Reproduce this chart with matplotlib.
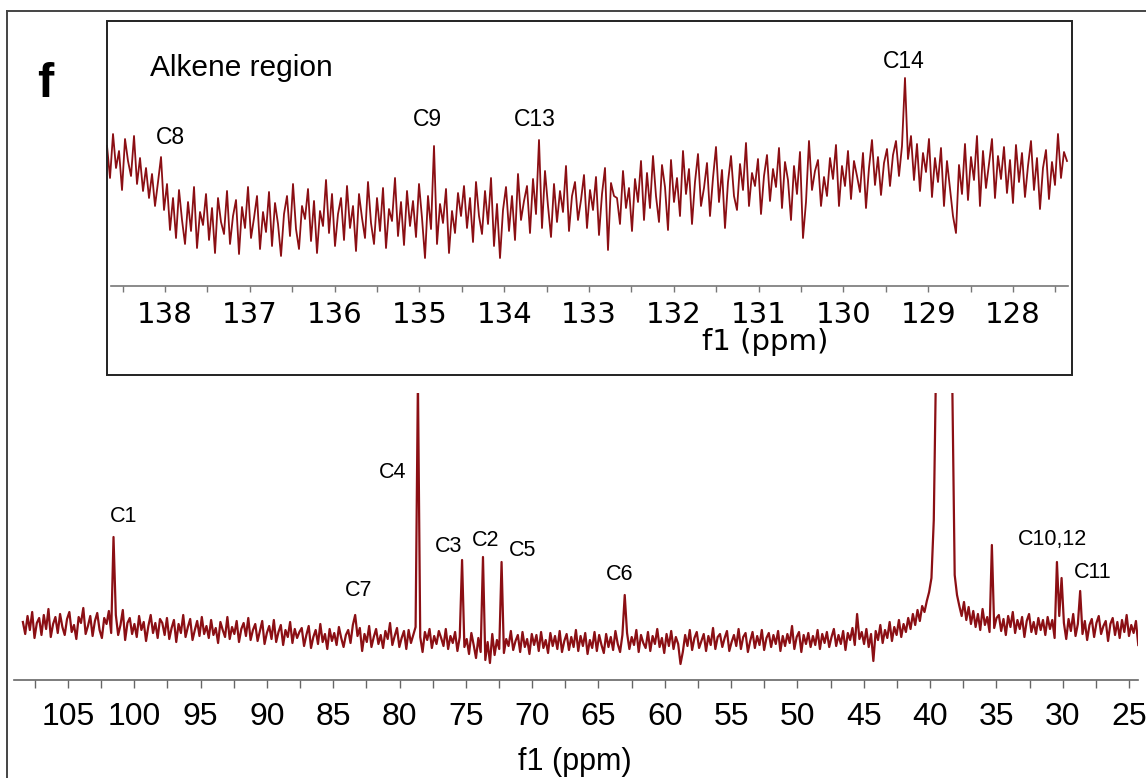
import numpy as np
import matplotlib
matplotlib.use('Agg')
import matplotlib.pyplot as plt
from matplotlib.patches import Rectangle
from matplotlib.lines import Line2D
from matplotlib.ticker import MultipleLocator

#### main spectrum (13C, 108 -> 24 ppm) ####
main_ppm_start = 108.4
main_ppm_end = 24.3
main_trace = [
    58, 46, 64, 50, 68, 42, 57, 62, 45, 65, 51, 71, 43, 56, 63, 47, 66, 53, 45, 61,
    68, 48, 55, 41, 63, 57, 72, 46, 54, 64, 44, 59, 67, 50, 42, 62, 56, 69, 47, 58,
    65, 45, 55, 70, 40, 57, 62, 46, 56, 43, 64, 50, 58, 39, 54, 65, 47, 57, 42, 61,
    57, 45, 62, 41, 52, 60, 38, 56, 47, 65, 43, 53, 61, 40, 50, 59, 44, 63, 46, 54,
    42, 60, 45, 52, 37, 58, 50, 43, 63, 41, 53, 46, 59, 38, 51, 57, 44, 62, 40, 50,
    56, 39, 49, 59, 36, 47, 54, 41, 60, 38, 48, 55, 35, 50, 43, 58, 37, 51, 42, 48,
    52, 34, 45, 54, 32, 43, 50, 36, 56, 38, 46, 31, 51, 39, 47, 35, 53, 42, 33, 45,
    50, 37, 55, 34, 44, 52, 29, 46, 38, 54, 33, 43, 51, 36, 45, 32, 49, 41, 57, 35,
    44, 52, 33, 42, 49, 31, 50, 37, 45, 53, 34, 43, 28, 48, 40, 51, 32, 44, 36, 49,
    42, 34, 51, 31, 44, 37, 48, 29, 43, 50, 33, 41, 26, 47, 35, 22, 42, 28, 49, 20,
    38, 17, 46, 25, 40, 31, 47, 27, 41, 34, 49, 30, 39, 45, 28, 48, 33, 41, 26, 46,
    35, 45, 29, 48, 32, 40, 27, 47, 34, 44, 31, 49, 28, 39, 46, 30, 43, 33, 50, 29,
    44, 34, 47, 26, 40, 32, 48, 29, 45, 35, 27, 46, 33, 43, 30, 49, 36, 28, 45, 34,
    47, 31, 43, 35, 50, 28, 45, 37, 32, 48, 29, 44, 36, 51, 33, 42, 27, 46, 34, 49,
    31, 43, 36, 16, 28, 45, 34, 50, 30, 42, 48, 32, 39, 46, 29, 44, 35, 52, 31, 43,
    46, 33, 42, 49, 29, 38, 45, 34, 51, 31, 43, 47, 28, 39, 48, 32, 44, 35, 50, 30,
    42, 47, 33, 45, 36, 49, 29, 44, 34, 46, 37, 54, 31, 43, 48, 28, 45, 36, 47, 33,
    44, 35, 50, 31, 46, 37, 48, 33, 43, 51, 34, 45, 36, 49, 30, 47, 40, 52, 35, 66,
    41, 48, 36, 51, 33, 46, 19, 49, 40, 55, 37, 50, 42, 58, 39, 53, 45, 60, 43, 56,
    48, 62, 51, 66, 55, 70, 59, 74, 68, 79, 88, 102, 160, 320, 400, 450, 460, 450, 410, 330,
    290, 105, 85, 74, 64, 78, 60, 73, 56, 69, 53, 66, 50, 71, 55, 63, 48, 68, 52, 62,
    65, 49, 61, 45, 64, 53, 68, 47, 60, 51, 63, 43, 59, 66, 48, 58, 46, 62, 50, 60,
    45, 63, 51, 60, 42, 58, 64, 47, 57, 41, 61, 49, 66, 44, 56, 62, 46, 59, 40, 55,
    61, 43, 57, 64, 46, 54, 59, 39, 56, 62, 45, 58, 42, 60, 48, 65, 44, 55, 47, 59,
    35,
]
main_peak_ppm = [101.5, 83.4, 78.6, 75.2, 73.7, 72.3, 63.0, 35.4, 30.4, 30.0, 28.7]
main_peak_height = [143, 65, 300, 120, 123, 118, 85, 135, 118, 102, 89]
main_labels = ['C1', 'C7', 'C4', 'C3', 'C2', 'C5', 'C6', 'C10,12', 'C11']
main_ticks = [105, 100, 95, 90, 85, 80, 75, 70, 65, 60, 55, 50, 45, 40, 35, 30, 25]

#### inset, alkene region (138.7 -> 127.4 ppm) ####
inset_ppm_start = 138.684
inset_ppm_end = 127.363
inset_trace = [
    140, 108, 152, 118, 135, 96, 147, 125, 110, 150, 102, 128, 95, 118, 88, 112, 80, 104, 92, 76,
    102, 56, 88, 48, 96, 66, 42, 84, 55, 99, 38, 74, 61, 92, 46, 78, 33, 88, 64, 52,
    95, 42, 70, 86, 32, 79, 58, 99, 48, 68, 90, 37, 74, 54, 94, 40, 83, 62, 30, 72,
    90, 50, 102, 57, 37, 80, 67, 97, 45, 85, 33, 75, 60, 106, 53, 92, 40, 72, 88, 46,
    100, 58, 80, 35, 92, 68, 48, 104, 63, 42, 88, 55, 98, 38, 77, 65, 108, 50, 84, 41,
    95, 60, 85, 49, 102, 68, 28, 90, 57, 104, 42, 82, 63, 97, 33, 75, 53, 93, 70, 100,
    58, 88, 44, 104, 70, 52, 95, 62, 108, 40, 82, 28, 76, 99, 55, 90, 46, 112, 66, 85,
    100, 53, 107, 72, 92, 58, 115, 80, 49, 102, 64, 95, 74, 120, 55, 90, 104, 66, 86, 111,
    58, 96, 76, 109, 51, 92, 118, 36, 103, 90, 88, 62, 115, 78, 98, 55, 107, 84, 125, 66,
    113, 78, 130, 90, 64, 121, 99, 56, 126, 84, 108, 70, 135, 92, 117, 62, 104, 132, 80, 98,
    123, 70, 108, 139, 84, 116, 58, 104, 130, 90, 76, 122, 96, 143, 80, 113, 100, 127, 72, 110,
    131, 85, 117, 99, 138, 78, 124, 106, 66, 120, 92, 134, 48, 84, 145, 96, 115, 126, 80, 109,
    90, 128, 107, 141, 80, 120, 100, 135, 87, 125, 110, 94, 133, 78, 118, 146, 101, 129, 91, 123,
    137, 100, 131, 145, 110, 140, 116, 127, 150, 106, 142, 95, 133, 114, 147, 89, 128, 104, 138, 80,
    125, 98, 70, 53, 121, 92, 142, 86, 129, 106, 150, 80, 135, 98, 122, 147, 88, 130, 107, 139,
    93, 126, 83, 141, 104, 133, 89, 120, 145, 96, 128, 77, 118, 136, 87, 124, 101, 152, 108, 134,
    125,
]
inset_peak_ppm = [138.04, 134.84, 133.6, 129.26]
inset_peak_height = [129, 140, 146, 208]
inset_labels = ['C8', 'C9', 'C13', 'C14']
inset_ticks = [138, 137, 136, 135, 134, 133, 132, 131, 130, 129, 128]

trace_color = '#8b0f14'
W, H = 1146, 778
helv = ['Liberation Sans', 'DejaVu Sans']


def build_trace(start, end, values, peak_ppm, peak_height):
    ppm = np.linspace(start, end, len(values))
    y = np.array(values, dtype=float)
    for p, h in zip(peak_ppm, peak_height):
        y[np.argmin(np.abs(ppm - p))] = h
    return ppm, y


def fx(px):
    return px / W


def fy(py):
    return 1 - py / H


fig = plt.figure(figsize=(W / 100, H / 100), dpi=100)

# outer frame + inset box
fig.add_artist(Line2D([fx(7), 1.0], [fy(11), fy(11)], color='#444444', lw=1.4))
fig.add_artist(Line2D([fx(7), fx(7)], [fy(11), 0.0], color='#444444', lw=1.4))
fig.add_artist(Rectangle((fx(107), fy(375)), fx(1072) - fx(107), fy(21) - fy(375),
                         fill=False, edgecolor='#222222', lw=1.4))

#### main axes ####
ax = fig.add_axes([fx(14), fy(680), fx(1138) - fx(14), fy(393) - fy(680)])
ppm, y = build_trace(main_ppm_start, main_ppm_end, main_trace, main_peak_ppm, main_peak_height)
ax.plot(ppm, y, color=trace_color, lw=1.6)
ax.set_xlim(109.07, 24.32)
ax.set_ylim(0, 287)
for s in ['top', 'left', 'right']:
    ax.spines[s].set_visible(False)
ax.spines['bottom'].set_color('#666666')
ax.spines['bottom'].set_linewidth(1.2)
ax.set_yticks([])
ax.set_xticks(main_ticks)
ax.set_xticklabels([str(t) for t in main_ticks], fontsize=23, family=helv)
ax.xaxis.set_minor_locator(MultipleLocator(2.5))
ax.tick_params(axis='x', which='both', direction='out', length=6, width=1,
               color='#666666', pad=10)
ax.patch.set_alpha(0)

# label positions (ppm, height) picked to sit like the original
main_label_pos = [(100.78, 164), (83.05, 89), (80.49, 208), (76.34, 133), (73.48, 140),
                  (70.76, 130), (63.37, 105), (30.79, 140), (27.70, 108)]
for lab, (lx, ly) in zip(main_labels, main_label_pos):
    ax.text(lx, ly, lab, ha='center', va='center', fontsize=15.5, family=helv)

fig.text(fx(575), fy(770), 'f1 (ppm)', ha='center', va='baseline', fontsize=22, family=helv)

#### inset ####
ai = fig.add_axes([fx(111), fy(286), fx(1068) - fx(111), fy(30) - fy(286)])
ppm_i, y_i = build_trace(inset_ppm_start, inset_ppm_end, inset_trace, inset_peak_ppm, inset_peak_height)
ai.plot(ppm_i, y_i, color=trace_color, lw=1.3, clip_on=False)
ai.set_xlim(138.637, 127.351)
ai.set_ylim(0, 256)
for s in ['top', 'left', 'right']:
    ai.spines[s].set_visible(False)
ai.spines['bottom'].set_color('#777777')
ai.spines['bottom'].set_linewidth(1.2)
ai.set_yticks([])
ai.set_xticks(inset_ticks)
ai.set_xticklabels([str(t) for t in inset_ticks], fontsize=21, family='DejaVu Sans')
ai.xaxis.set_minor_locator(MultipleLocator(0.5))
ai.tick_params(axis='x', which='both', direction='out', length=4, width=1,
               color='#777777', pad=7)
ai.patch.set_alpha(0)

inset_label_pos = [(137.94, 148), (134.91, 166), (133.64, 166), (129.29, 225)]
for lab, (lx, ly) in zip(inset_labels, inset_label_pos):
    ai.text(lx, ly, lab, ha='center', va='center', fontsize=16.5, family=helv)

fig.text(fx(765), fy(350), 'f1 (ppm)', ha='center', va='baseline', fontsize=21, family='DejaVu Sans')
fig.text(fx(150), fy(76), 'Alkene region', ha='left', va='baseline', fontsize=21.5, family=helv)
fig.text(fx(37), fy(97), 'f', ha='left', va='baseline', fontsize=35, fontweight='bold', family=helv)

fig.savefig('out.png', dpi=100)
